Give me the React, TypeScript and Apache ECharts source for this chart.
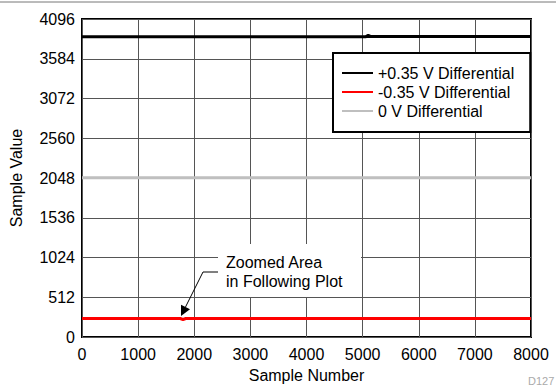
import React, { useEffect, useRef } from "react";
import * as echarts from "echarts";

const seriesNames = ["+0.35 V Differential", "-0.35 V Differential", "0 V Differential"];
const seriesColors = ["#000000", "#ff0000", "#bfbfbf"];
const posData: [number, number][] = [[0, 3866], [2000, 3866], [5050, 3866], [5100, 3885], [5150, 3870], [6500, 3870], [8000, 3869]];
const negData: [number, number][] = [[0, 238], [1750, 238], [1800, 226], [1850, 238], [5000, 238], [8000, 238]];
const zeroData: [number, number][] = [[0, 2052], [4000, 2052], [8000, 2052]];
const yTicks = [0, 512, 1024, 1536, 2048, 2560, 3072, 3584, 4096];
const xTicks = [0, 1000, 2000, 3000, 4000, 5000, 6000, 7000, 8000];

export default function App() {
  const ref = useRef<HTMLDivElement>(null);
  useEffect(() => {
    document.body.style.margin = "0";
    const chart = echarts.init(ref.current!, null, { renderer: "svg" });
    const font = "Liberation Sans, Arial, Helvetica, sans-serif";
    chart.setOption({
      animation: false,
      backgroundColor: "#ffffff",
      textStyle: { fontFamily: font },
      grid: {
        left: 78, right: 25, top: 19, bottom: 48,
        show: true, borderColor: "#000", borderWidth: 2, backgroundColor: "transparent",
      },
      xAxis: {
        type: "value",
        min: xTicks[0], max: xTicks[xTicks.length - 1], interval: 1000,
        name: "Sample Number", nameLocation: "middle", nameGap: 30,
        nameTextStyle: { fontSize: 16, color: "#000", fontFamily: font },
        axisLine: { show: false }, axisTick: { show: false },
        axisLabel: { fontSize: 16, color: "#000", margin: 9, fontFamily: font, formatter: (v: number) => String(v) },
        splitLine: { show: true, lineStyle: { color: "#555", width: 1 } },
      },
      yAxis: {
        type: "value",
        min: yTicks[0], max: yTicks[yTicks.length - 1], interval: 512,
        name: "Sample Value", nameLocation: "middle", nameGap: 58,
        nameTextStyle: { fontSize: 16, color: "#000", fontFamily: font },
        axisLine: { show: false }, axisTick: { show: false },
        axisLabel: { fontSize: 16, color: "#000", margin: 7, fontFamily: font, formatter: (v: number) => String(v) },
        splitLine: { show: true, lineStyle: { color: "#555", width: 1 } },
      },
      legend: {
        orient: "vertical",
        left: 333, top: 53,
        data: seriesNames.map((n) => ({ name: n, icon: "rect" })),
        itemWidth: 31, itemHeight: 2, itemGap: 3,
        padding: [12, 16, 13, 9],
        backgroundColor: "#fff", borderColor: "#000", borderWidth: 2, borderRadius: 0,
        textStyle: { fontSize: 16, color: "#000", fontFamily: font },
      },
      series: [
        { name: seriesNames[0], type: "line", data: posData, showSymbol: false, lineStyle: { color: seriesColors[0], width: 3 }, itemStyle: { color: seriesColors[0] }, z: 3 },
        { name: seriesNames[1], type: "line", data: negData, showSymbol: false, lineStyle: { color: seriesColors[1], width: 3 }, itemStyle: { color: seriesColors[1] }, z: 3 },
        { name: seriesNames[2], type: "line", data: zeroData, showSymbol: false, lineStyle: { color: seriesColors[2], width: 3 }, itemStyle: { color: seriesColors[2] }, z: 3 },
      ],
      graphic: [
        { type: "line", z: 100, shape: { x1: 0, y1: 2, x2: 556, y2: 2 }, style: { stroke: "#777", lineWidth: 1 } },
        { type: "rect", z: 100, shape: { x: 218, y: 244, width: 143, height: 53 }, style: { fill: "#fff" } },
        { type: "text", z: 101, x: 226, y: 253, style: { text: "Zoomed Area\nin Following Plot", font: "16px " + font, fill: "#000", lineHeight: 19 } },
        { type: "polyline", z: 101, shape: { points: [[218, 272], [203, 272], [185.5, 307]] }, style: { stroke: "#000", lineWidth: 1, fill: "none" } },
        { type: "polygon", z: 101, shape: { points: [[181, 316], [190, 309.3], [181, 304.8]] }, style: { fill: "#000" } },
        { type: "text", z: 101, x: 528, y: 375, style: { text: "D127", font: "11px " + font, fill: "#aaa" } },
      ],
    });
    return () => chart.dispose();
  }, []);
  return <div ref={ref} style={{ position: "fixed", left: 0, top: 0, width: 556, height: 388 }} />;
}
